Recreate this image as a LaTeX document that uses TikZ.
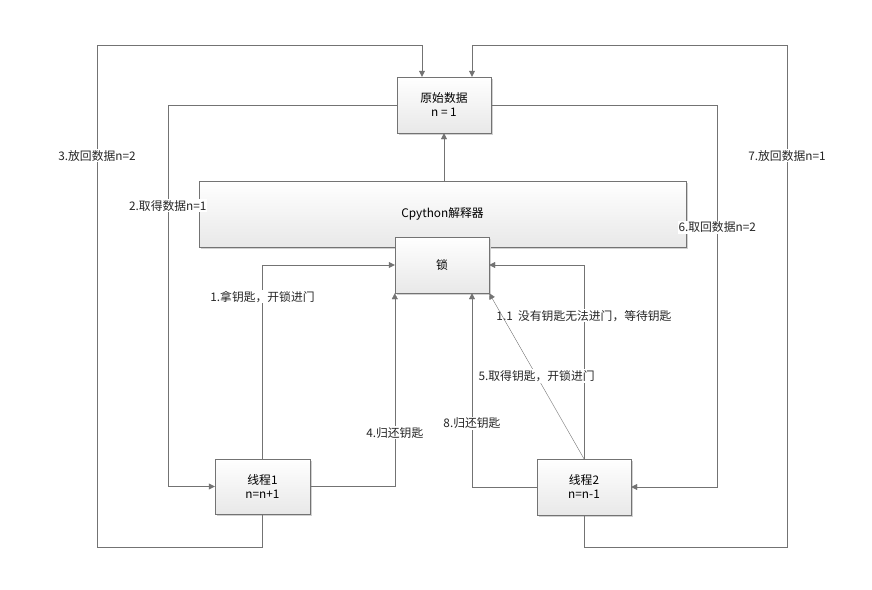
\documentclass[tikz,border=0pt]{standalone}
\usepackage{fontspec}
\setmainfont{Noto Sans CJK SC}
\usetikzlibrary{arrows.meta,shadows}
\tikzset{
  box/.style={draw=black!55, top color=white, bottom color=black!9, align=center,
    general shadow={shadow xshift=1.5pt, shadow yshift=-1.5pt, fill=black!18},
    minimum width=94pt, minimum height=56pt, inner sep=2pt},
  conn/.style={draw=black!55, -{Triangle[length=6pt,width=6pt]}},
  lbl/.style={fill=white, inner sep=1pt, text=black!85},
}
\begin{document}
\begin{tikzpicture}[x=1pt,y=-1pt,font=\fontsize{11.8}{14}\selectfont]
\useasboundingbox (0,0) rectangle (872,589);
\node[box] (data) at (444,105) {原始数据\\n\ =\ 1};
\node[box, minimum width=487pt, minimum height=66pt] (interp) at (442.5,214) {Cpython解释器};
\node[box] (lock) at (442,265) {锁};
\node[box, minimum width=95pt, minimum height=55pt] (t1) at (262.5,486.5) {线程1\\n=n+1};
\node[box] (t2) at (584,487) {线程2\\n=n-1};
\coordinate (ol1) at (97,547);
\coordinate (ol2) at (97,45);
\coordinate (or1) at (787,547);
\coordinate (or2) at (787,45);

\draw[conn] (data.south |- interp.north) -- (data.south);
\draw[conn] (t1.north) |- node[lbl, pos=0.418] {1.拿钥匙，开锁进门} (lock.west);
\draw[conn] (t1.east) -| node[lbl, pos=0.639] {4.归还钥匙} (lock.south west);
\draw[conn] (t2.west) -| node[lbl, pos=0.665] {8.归还钥匙} ([xshift=30]lock.south);
\draw[conn] (t2.north) |- node[lbl, pos=0.369] {1.1~ 没有钥匙无法进门，等待钥匙} (lock.east);
\draw[conn] (t2.north) -- node[lbl, pos=0.5] {5.取得钥匙，开锁进门} (lock.south east);
\draw[conn] (data.west) -| node[lbl, pos=0.632] {2.取得数据n=1} ([xshift=-47]t1.west) -- (t1.west);
\draw[conn] (data.east) -| node[lbl, pos=0.66] {6.取回数据n=2} ([xshift=86]t2.east) -- (t2.east);
\draw[conn] (t1.south) |- (ol1) -- node[lbl, pos=0.779] {3.放回数据n=2} (ol2) -| ([xshift=-22]data.north);
\draw[conn] (t2.south) |- (or1) -- node[lbl, pos=0.779] {7.放回数据n=1} (or2) -| ([xshift=28]data.north);
\end{tikzpicture}
\end{document}
